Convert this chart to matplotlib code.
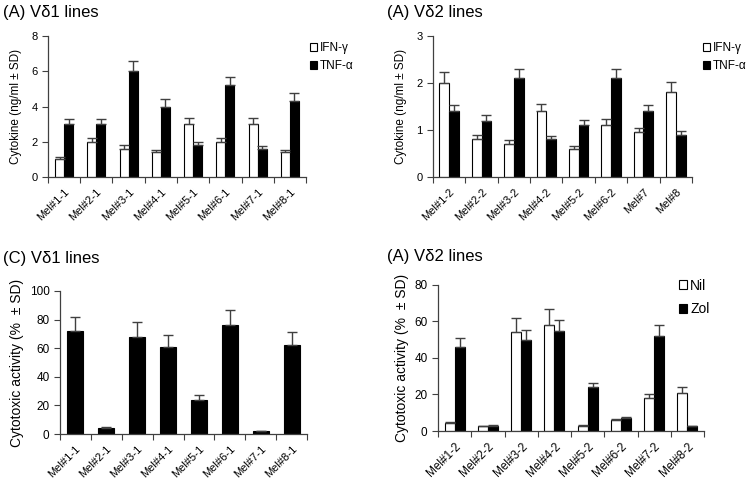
import matplotlib
matplotlib.use("Agg")
import matplotlib.pyplot as plt
import numpy as np

plt.rcParams["font.family"] = ["Liberation Sans", "DejaVu Sans"]

# top left: Vd1 cytokines
labels_1 = ["Mel#1-1", "Mel#2-1", "Mel#3-1", "Mel#4-1", "Mel#5-1", "Mel#6-1", "Mel#7-1", "Mel#8-1"]
ifn_1 = [1.0, 2.0, 1.6, 1.4, 3.0, 2.0, 3.0, 1.4]
ifn_1_sd = [0.12, 0.2, 0.2, 0.15, 0.35, 0.2, 0.35, 0.15]
tnf_1 = [3.0, 3.0, 6.0, 4.0, 1.8, 5.2, 1.6, 4.3]
tnf_1_sd = [0.3, 0.3, 0.6, 0.4, 0.2, 0.5, 0.15, 0.45]

# top right: Vd2 cytokines
labels_2 = ["Mel#1-2", "Mel#2-2", "Mel#3-2", "Mel#4-2", "Mel#5-2", "Mel#6-2", "Mel#7", "Mel#8"]
ifn_2 = [2.0, 0.8, 0.7, 1.4, 0.6, 1.1, 0.95, 1.8]
ifn_2_sd = [0.23, 0.09, 0.08, 0.16, 0.07, 0.13, 0.1, 0.22]
tnf_2 = [1.4, 1.2, 2.1, 0.8, 1.1, 2.1, 1.4, 0.9]
tnf_2_sd = [0.14, 0.12, 0.2, 0.07, 0.11, 0.2, 0.14, 0.08]

# bottom left: Vd1 cytotoxicity
cyto_1 = [72, 4, 68, 61, 24, 76, 2, 62]
cyto_1_sd = [10, 0.6, 10, 8.5, 3.5, 11, 0.4, 9]

# bottom right: Vd2 cytotoxicity
labels_4 = ["Mel#1-2", "Mel#2-2", "Mel#3-2", "Mel#4-2", "Mel#5-2", "Mel#6-2", "Mel#7-2", "Mel#8-2"]
nil_4 = [4.5, 2.5, 54, 58, 3, 6, 18, 21]
nil_4_sd = [0.5, 0.3, 8, 9, 0.3, 0.6, 2.5, 3]
zol_4 = [46, 3, 50, 55, 24, 7, 52, 2.5]
zol_4_sd = [5, 0.3, 5.5, 6, 2.5, 0.6, 6, 0.3]

AX_COL = "#404040"
ERR_KW = dict(ecolor=AX_COL, elinewidth=1.0, capsize=3.5, capthick=1.0)


def style_axis(ax, labels, ymax, yticks, fs, xfs):
    n = len(labels)
    ax.set_xlim(0, n)
    ax.set_ylim(0, ymax)
    ax.set_yticks(yticks)
    ax.spines["top"].set_visible(False)
    ax.spines["right"].set_visible(False)
    for s in ("left", "bottom"):
        ax.spines[s].set_color(AX_COL)
        ax.spines[s].set_linewidth(0.9)
    ax.set_xticks(np.arange(n + 1))
    ax.set_xticklabels([])
    ax.tick_params(axis="x", direction="out", length=4, color=AX_COL)
    ax.tick_params(axis="y", direction="out", length=4, color=AX_COL, labelsize=fs)
    ax.set_xticks(np.arange(n) + 0.5, minor=True)
    ax.set_xticklabels(labels, minor=True, rotation=45, ha="right", rotation_mode="anchor", fontsize=xfs)
    ax.tick_params(axis="x", which="minor", length=0, pad=7)


def pair(ax, a, a_sd, b, b_sd, w):
    x = np.arange(len(a)) + 0.5
    up_a = [np.zeros(len(a)), a_sd]
    up_b = [np.zeros(len(b)), b_sd]
    h1 = ax.bar(x - w / 2, a, w, color="white", edgecolor="black", linewidth=0.8,
                yerr=up_a, error_kw=ERR_KW, zorder=2)
    h2 = ax.bar(x + w / 2, b, w, color="black", edgecolor="black", linewidth=0.8,
                yerr=up_b, error_kw=ERR_KW, zorder=2)
    return h1, h2


def main():
    fig = plt.figure(figsize=(7.53, 4.84), dpi=100)

    # panel 1
    ax1 = fig.add_axes([0.0637, 0.6343, 0.3427, 0.2913])
    h1, h2 = pair(ax1, ifn_1, ifn_1_sd, tnf_1, tnf_1_sd, 0.28)
    style_axis(ax1, labels_1, 8, [0, 2, 4, 6, 8], 8, 8)
    ax1.set_ylabel("Cytokine (ng/ml ± SD)", fontsize=8.5, labelpad=7)
    ax1.legend([h1, h2], ["IFN-γ", "TNF-α"], loc="upper left", bbox_to_anchor=(0.398, 0.935),
               bbox_transform=fig.transFigure, frameon=False, fontsize=8.5,
               handlelength=0.6, handleheight=0.6, handletextpad=0.2, labelspacing=0.5)
    fig.text(0.004, 0.975, "(A) Vδ1 lines", fontsize=12, va="center", ha="left")

    # panel 2
    ax2 = fig.add_axes([0.575, 0.6343, 0.344, 0.2913])
    h1, h2 = pair(ax2, ifn_2, ifn_2_sd, tnf_2, tnf_2_sd, 0.3)
    style_axis(ax2, labels_2, 3, [0, 1, 2, 3], 8, 8)
    ax2.set_ylabel("Cytokine (ng/ml ± SD)", fontsize=8.5, labelpad=7)
    ax2.legend([h1, h2], ["IFN-γ", "TNF-α"], loc="upper left", bbox_to_anchor=(0.92, 0.935),
               bbox_transform=fig.transFigure, frameon=False, fontsize=8.5,
               handlelength=0.6, handleheight=0.6, handletextpad=0.2, labelspacing=0.5)
    fig.text(0.514, 0.975, "(A) Vδ2 lines", fontsize=12, va="center", ha="left")

    # panel 3
    ax3 = fig.add_axes([0.0797, 0.1033, 0.328, 0.2955])
    x = np.arange(len(cyto_1)) + 0.5
    ax3.bar(x, cyto_1, 0.52, color="black", edgecolor="black", linewidth=0.8,
            yerr=[np.zeros(len(cyto_1)), cyto_1_sd], error_kw=ERR_KW, zorder=2)
    style_axis(ax3, labels_1, 100, [0, 20, 40, 60, 80, 100], 8.5, 8)
    ax3.set_ylabel("Cytotoxic activity (%  ± SD)", fontsize=10, labelpad=4)
    fig.text(0.004, 0.466, "(C) Vδ1 lines", fontsize=12, va="center", ha="left")

    # panel 4
    ax4 = fig.add_axes([0.5817, 0.1095, 0.3533, 0.3017])
    h1, h2 = pair(ax4, nil_4, nil_4_sd, zol_4, zol_4_sd, 0.3)
    style_axis(ax4, labels_4, 80, [0, 20, 40, 60, 80], 8.5, 8.5)
    ax4.set_ylabel("Cytotoxic activity (%  ± SD)", fontsize=10, labelpad=4)
    ax4.legend([h1, h2], ["Nil", "Zol"], loc="upper left", bbox_to_anchor=(0.885, 0.45),
               bbox_transform=fig.transFigure, frameon=False, fontsize=10,
               handlelength=0.6, handleheight=0.6, handletextpad=0.2, labelspacing=0.7)
    fig.text(0.514, 0.47, "(A) Vδ2 lines", fontsize=12, va="center", ha="left")

    fig.savefig("out.png", dpi=100)
    plt.close(fig)


if __name__ == "__main__":
    main()
